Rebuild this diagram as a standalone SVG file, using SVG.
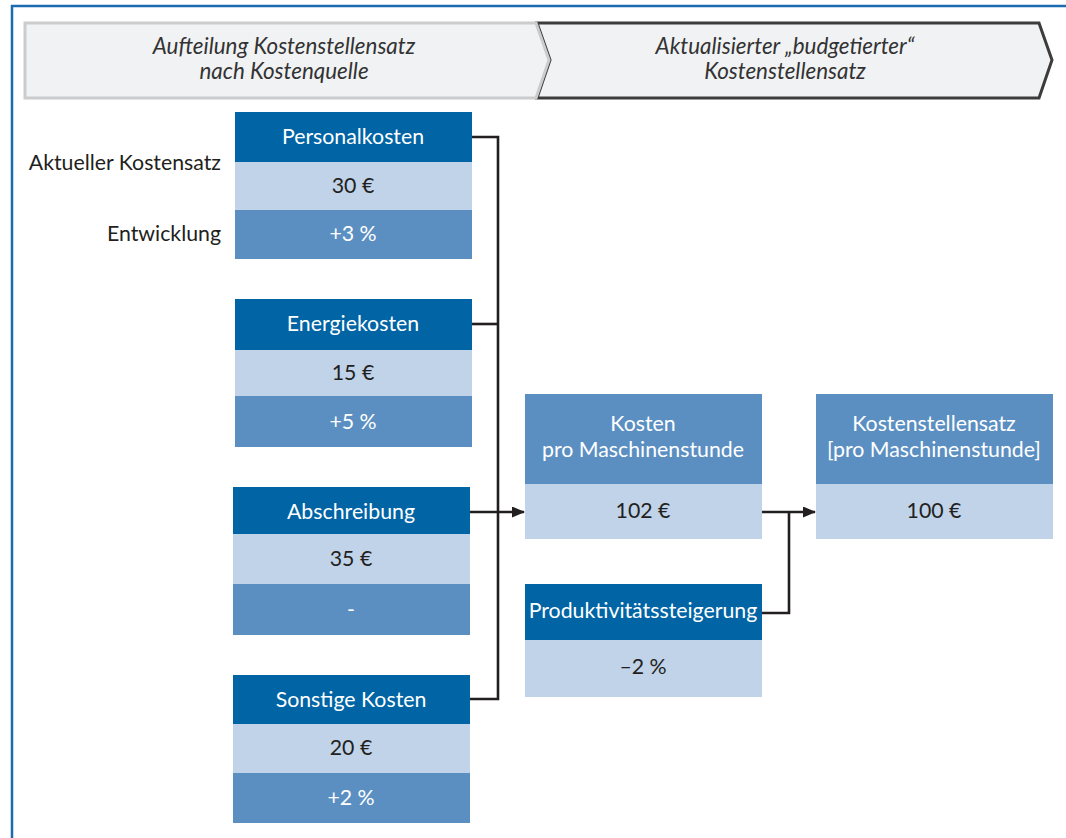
<svg xmlns="http://www.w3.org/2000/svg" width="1066" height="838" viewBox="0 0 1066 838">
<style>
.t{font-family:Lato,"Open Sans","Liberation Sans",sans-serif;font-size:21.3px;text-anchor:middle}
.w{fill:#ffffff}
.d{fill:#231f20}
.lbl{font-family:Lato,"Open Sans","Liberation Sans",sans-serif;font-size:21.3px;text-anchor:end;fill:#231f20}
.hd{font-family:Lato,"Open Sans","Liberation Sans",sans-serif;font-size:22.4px;font-style:italic;text-anchor:middle;fill:#333333}
.h{fill:#0064a5}
.v{fill:#c0d3e8}
.m{fill:#5b8fc2}
.c{fill:none;stroke:#231f20;stroke-width:2.6}
</style>
<defs>
<marker id="ah" markerWidth="13" markerHeight="11" refX="12" refY="5.5" orient="auto" markerUnits="userSpaceOnUse">
<path d="M0,0 L13,5.5 L0,11 Z" fill="#231f20"/>
</marker>
</defs>
<rect width="1066" height="838" fill="#ffffff"/>
<g id="frame">
<path d="M12,838 L12,6 L1066,6" fill="none" stroke="#1b6bb0" stroke-width="2.5"/>
</g>
<g id="phase2">
<path d="M537,23 L1039,23 L1052,60 L1039,98 L537,98 L550,60 Z" fill="#f1f2f4" stroke="#3c3c3c" stroke-width="3" stroke-linejoin="miter"/>
<text class="hd" x="785" y="54">Aktualisierter „budgetierter“</text>
<text class="hd" x="785" y="79">Kostenstellensatz</text>
</g>
<g id="phase1">
<path d="M25,23 L536,23 L549,60 L536,98 L25,98 Z" fill="#f1f2f4" stroke="#cbcccd" stroke-width="3"/>
<text class="hd" x="284" y="54">Aufteilung Kostenstellensatz</text>
<text class="hd" x="284" y="79">nach Kostenquelle</text>
</g>
<g id="labels">
<text class="lbl" x="221" y="170">Aktueller Kostensatz</text>
<text class="lbl" x="221" y="241">Entwicklung</text>
</g>
<g id="personalkosten">
<rect class="h" x="235" y="112" width="237" height="50"/>
<rect class="v" x="235" y="162" width="237" height="48"/>
<rect class="m" x="235" y="210" width="237" height="49"/>
<text class="t w" x="353" y="144">Personalkosten</text>
<text class="t d" x="353" y="193">30 €</text>
<text class="t w" x="353" y="241">+3 %</text>
</g>
<g id="energiekosten">
<rect class="h" x="235" y="299" width="237" height="51"/>
<rect class="v" x="235" y="350" width="237" height="46"/>
<rect class="m" x="235" y="396" width="237" height="51"/>
<text class="t w" x="353" y="331">Energiekosten</text>
<text class="t d" x="353" y="380">15 €</text>
<text class="t w" x="353" y="429">+5 %</text>
</g>
<g id="abschreibung">
<rect class="h" x="233" y="487" width="237" height="47"/>
<rect class="v" x="233" y="534" width="237" height="50"/>
<rect class="m" x="233" y="584" width="237" height="51"/>
<text class="t w" x="351" y="519">Abschreibung</text>
<text class="t d" x="351" y="566">35 €</text>
<text class="t w" x="351" y="617">-</text>
</g>
<g id="sonstige">
<rect class="h" x="233" y="675" width="237" height="49"/>
<rect class="v" x="233" y="724" width="237" height="49"/>
<rect class="m" x="233" y="773" width="237" height="50"/>
<text class="t w" x="351" y="707">Sonstige Kosten</text>
<text class="t d" x="351" y="755">20 €</text>
<text class="t w" x="351" y="805">+2 %</text>
</g>
<g id="kosten">
<rect class="m" x="525" y="394" width="237" height="90"/>
<rect class="v" x="525" y="484" width="237" height="55"/>
<text class="t w" x="643" y="431">Kosten</text>
<text class="t w" x="643" y="457">pro Maschinenstunde</text>
<text class="t d" x="643" y="518">102 €</text>
</g>
<g id="produktivitaet">
<rect class="h" x="525" y="584" width="237" height="56"/>
<rect class="v" x="525" y="640" width="237" height="57"/>
<text class="t w" x="643" y="618">Produktivitätssteigerung</text>
<text class="t d" x="643" y="674">–2 %</text>
</g>
<g id="kostenstellensatz">
<rect class="m" x="816" y="394" width="237" height="90"/>
<rect class="v" x="816" y="484" width="237" height="55"/>
<text class="t w" x="934" y="431">Kostenstellensatz</text>
<text class="t w" x="934" y="457">[pro Maschinenstunde]</text>
<text class="t d" x="934" y="518">100 €</text>
</g>
<g id="connectors">
<path class="c" d="M472,137 L498,137 L498,699 L470,699"/>
<path class="c" d="M472,324 L498,324"/>
<path class="c" d="M470,512 L524,512" marker-end="url(#ah)"/>
<path class="c" d="M762,512 L815,512" marker-end="url(#ah)"/>
<path class="c" d="M762,613 L789,613 L789,512"/>
</g>
</svg>
